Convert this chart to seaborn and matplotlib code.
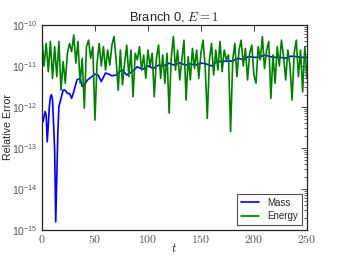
import numpy as np
import pandas as pd
import matplotlib
matplotlib.use("Agg")
import matplotlib.pyplot as plt
import matplotlib.ticker as mticker
import seaborn as sns

# Data (log10 of relative error)
mass_t = [0, 1, 3, 4, 5, 7, 8, 9, 10, 12, 13, 15, 16, 18, 20, 22, 24, 26, 28, 30,
          33, 36, 38, 40, 43, 46, 50, 53, 56, 60, 63, 66, 70, 73, 76, 80, 85, 90,
          95, 100, 105, 110, 115, 120, 125, 130, 135, 140, 145, 150, 155, 160,
          165, 170, 175, 180, 185, 190, 195, 200, 205, 210, 215, 220, 225, 230,
          235, 240, 245, 250]
mass_log10 = [-12.28, -12.36, -12.11, -12.2, -12.85, -11.99, -11.75, -11.7, -11.83,
              -13.05, -14.8, -12.64, -11.99, -11.79, -11.59, -11.59, -11.67, -11.67,
              -11.79, -11.63, -11.34, -11.3, -11.5, -11.46, -11.34, -11.28, -11.2,
              -11.22, -11.38, -11.17, -11.2, -11.24, -11.22, -11.14, -11.1, -11.22,
              -11.14, -11.02, -11.08, -11.0, -11.06, -10.98, -11.0, -10.93, -10.98,
              -10.92, -10.98, -10.95, -10.98, -10.93, -10.95, -11.0, -10.89, -10.89,
              -10.88, -10.88, -10.81, -10.85, -10.77, -10.79, -10.79, -10.73, -10.77,
              -10.79, -10.79, -10.81, -10.76, -10.77, -10.79, -10.79]

energy_t = list(range(0, 251, 2))
energy_log10 = [-10.33, -11.0, -10.45, -11.14, -10.4, -11.3, -10.53, -11.26, -10.4, -11.59,
                -10.89, -11.42, -10.69, -10.45, -10.65, -10.24, -10.93, -10.4, -11.42, -10.81,
                -12.03, -10.53, -10.37, -10.81, -10.53, -12.32, -10.93, -10.45, -11.0, -10.53,
                -11.1, -10.61, -10.98, -10.49, -10.28, -10.85, -11.59, -10.61, -11.46, -10.93,
                -10.49, -11.26, -10.61, -11.75, -10.69, -10.85, -10.53, -11.1, -10.73, -11.3,
                -10.61, -11.0, -10.69, -11.75, -10.81, -10.49, -11.3, -10.73, -11.42, -10.69,
                -12.15, -10.81, -10.28, -11.1, -10.61, -11.34, -10.85, -10.37, -11.83, -10.77,
                -11.34, -10.57, -11.06, -10.61, -11.3, -10.69, -10.37, -11.0, -12.28, -10.85,
                -10.45, -11.22, -10.61, -11.1, -10.4, -11.14, -10.61, -10.85, -10.73, -12.6,
                -10.85, -10.45, -11.26, -10.61, -10.37, -11.0, -10.57, -11.34, -10.69, -10.49,
                -11.22, -11.42, -10.53, -10.85, -10.28, -11.06, -10.61, -10.4, -11.79, -10.73,
                -11.42, -10.53, -11.0, -10.37, -10.77, -11.34, -10.61, -10.98, -11.83, -10.69,
                -10.37, -11.26, -10.61, -11.63, -10.53, -11.3]

x_ticks = [0, 50, 100, 150, 200, 250]
y_ticks = [1e-15, 1e-14, 1e-13, 1e-12, 1e-11, 1e-10]
series_labels = ["Mass", "Energy"]
title = "Branch 0, $E=1$"
xlabel = "$t$"
ylabel = "Relative Error"

mass_df = pd.DataFrame({"t": mass_t, "err": 10.0 ** np.array(mass_log10)})
energy_df = pd.DataFrame({"t": energy_t, "err": 10.0 ** np.array(energy_log10)})

sns.set_style("white")
plt.rcParams["font.family"] = ["Liberation Sans", "DejaVu Sans"]
plt.rcParams["mathtext.fontset"] = "cm"

fig = plt.figure(figsize=(3.41, 2.56), dpi=100)
ax = fig.add_axes([0.123, 0.1016, 0.777, 0.8008])

sns.lineplot(data=mass_df, x="t", y="err", ax=ax, color="#0000ff", lw=1.2,
             label=series_labels[0])
sns.lineplot(data=energy_df, x="t", y="err", ax=ax, color="#008000", lw=1.2,
             label=series_labels[1])

ax.set_yscale("log")
ax.set_ylim(1e-15, 1e-10)
ax.set_xlim(0, 250)
ax.set_xticks(x_ticks)
ax.xaxis.set_major_formatter(mticker.FuncFormatter(lambda v, p: f"${int(v)}$"))
ax.set_yticks(y_ticks)
ax.yaxis.set_major_formatter(mticker.LogFormatterMathtext())
ax.yaxis.set_minor_locator(mticker.LogLocator(base=10, subs=np.arange(2, 10), numticks=20))
ax.yaxis.set_minor_formatter(mticker.NullFormatter())
ax.set_ylim(1e-15, 1e-10)

ax.tick_params(axis="both", which="both", direction="in", top=True, right=True,
               colors="#222222", labelcolor="#555555")
ax.tick_params(axis="x", labelsize=8.5)
ax.tick_params(axis="y", labelsize=7.5)
ax.tick_params(axis="both", which="major", length=4, width=0.6, pad=3)
ax.tick_params(axis="both", which="minor", length=2, width=0.5)
for s in ax.spines.values():
    s.set_color("#222222")
    s.set_linewidth(0.9)

ax.set_title(title, fontsize=9.3, pad=3)
ax.set_xlabel(xlabel, fontsize=9)
ax.set_ylabel(ylabel, fontsize=7.7)
ax.xaxis.set_label_coords(0.5, -0.088)
ax.yaxis.set_label_coords(-0.128, 0.5)
ax.xaxis.label.set_va("center")
ax.yaxis.label.set_va("center")

leg = ax.legend(loc="lower right", fontsize=7, fancybox=False, frameon=True,
                borderaxespad=0.5, handlelength=1.8, handletextpad=0.9,
                borderpad=0.4, labelspacing=0.35)
leg.get_frame().set_edgecolor("#222222")
leg.get_frame().set_linewidth(0.8)

fig.savefig("out.png", dpi=100)
